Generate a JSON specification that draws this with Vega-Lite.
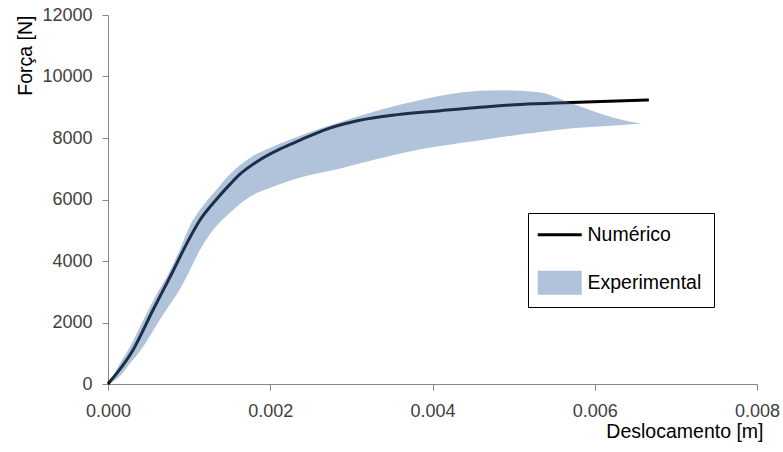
{
  "$schema": "https://vega.github.io/schema/vega-lite/v6.json",
  "autosize": "none",
  "width": 649,
  "height": 369,
  "padding": {"left": 108, "top": 15, "right": 26, "bottom": 68},
  "background": "white",
  "config": {
    "font": "Liberation Sans",
    "view": {"stroke": null},
    "axis": {"grid": false, "labelFlush": false, "domainColor": "#868686", "tickColor": "#868686", "tickSize": 6, "labelFont": "Liberation Sans", "labelFontSize": 18, "labelColor": "#404040", "titleFont": "Liberation Sans", "titleFontSize": 19.5, "titleFontWeight": "normal", "titleColor": "#000000"}
  },
  "datasets": {
    "num": [
      {"x": 0, "y": 0, "series": "Numérico"},
      {"x": 0.000309, "y": 1109, "series": "Numérico"},
      {"x": 0.000556, "y": 2413, "series": "Numérico"},
      {"x": 0.00079, "y": 3610, "series": "Numérico"},
      {"x": 0.000975, "y": 4590, "series": "Numérico"},
      {"x": 0.001136, "y": 5340, "series": "Numérico"},
      {"x": 0.001346, "y": 6033, "series": "Numérico"},
      {"x": 0.001506, "y": 6500, "series": "Numérico"},
      {"x": 0.00163, "y": 6830, "series": "Numérico"},
      {"x": 0.00184, "y": 7239, "series": "Numérico"},
      {"x": 0.002123, "y": 7647, "series": "Numérico"},
      {"x": 0.00237, "y": 7930, "series": "Numérico"},
      {"x": 0.002654, "y": 8250, "series": "Numérico"},
      {"x": 0.003074, "y": 8560, "series": "Numérico"},
      {"x": 0.003568, "y": 8760, "series": "Numérico"},
      {"x": 0.004099, "y": 8890, "series": "Numérico"},
      {"x": 0.004679, "y": 9020, "series": "Numérico"},
      {"x": 0.005086, "y": 9090, "series": "Numérico"},
      {"x": 0.005704, "y": 9153, "series": "Numérico"},
      {"x": 0.006667, "y": 9238, "series": "Numérico"}
    ],
    "exp": [
      {"x": 0, "lo": 0, "hi": 0, "series": "Experimental"},
      {"x": 0.000148, "lo": 261, "hi": 665, "series": "Experimental"},
      {"x": 0.000272, "lo": 672, "hi": 1216, "series": "Experimental"},
      {"x": 0.000432, "lo": 1207, "hi": 2064, "series": "Experimental"},
      {"x": 0.000519, "lo": 1572, "hi": 2521, "series": "Experimental"},
      {"x": 0.000679, "lo": 2250, "hi": 3284, "series": "Experimental"},
      {"x": 0.000728, "lo": 2449, "hi": 3499, "series": "Experimental"},
      {"x": 0.000889, "lo": 3098, "hi": 4402, "series": "Experimental"},
      {"x": 0.001012, "lo": 3717, "hi": 5165, "series": "Experimental"},
      {"x": 0.001136, "lo": 4370, "hi": 5674, "series": "Experimental"},
      {"x": 0.001321, "lo": 5087, "hi": 6271, "series": "Experimental"},
      {"x": 0.001506, "lo": 5576, "hi": 6828, "series": "Experimental"},
      {"x": 0.001753, "lo": 6098, "hi": 7360, "series": "Experimental"},
      {"x": 0.002, "lo": 6382, "hi": 7686, "series": "Experimental"},
      {"x": 0.00237, "lo": 6717, "hi": 8077, "series": "Experimental"},
      {"x": 0.002864, "lo": 7011, "hi": 8518, "series": "Experimental"},
      {"x": 0.003358, "lo": 7344, "hi": 8919, "series": "Experimental"},
      {"x": 0.003852, "lo": 7631, "hi": 9238, "series": "Experimental"},
      {"x": 0.004346, "lo": 7836, "hi": 9479, "series": "Experimental"},
      {"x": 0.00484, "lo": 8028, "hi": 9554, "series": "Experimental"},
      {"x": 0.005333, "lo": 8198, "hi": 9479, "series": "Experimental"},
      {"x": 0.00558, "lo": 8276, "hi": 9261, "series": "Experimental"},
      {"x": 0.00595, "lo": 8354, "hi": 8902, "series": "Experimental"},
      {"x": 0.006259, "lo": 8403, "hi": 8641, "series": "Experimental"},
      {"x": 0.006568, "lo": 8469, "hi": 8469, "series": "Experimental"}
    ]
  },
  "encoding": {
    "x": {
      "field": "x", "type": "quantitative",
      "scale": {"domain": [0, 0.008], "nice": false, "zero": false},
      "axis": {"values": [0, 0.002, 0.004, 0.006, 0.008], "format": ".3f", "labelPadding": 12, "title": "Deslocamento [m]", "titleAnchor": "end", "titleAlign": "right", "titleBaseline": "alphabetic", "titleX": 655, "titleY": 53}
    }
  },
  "layer": [
    {
      "data": {"name": "num"},
      "mark": {"type": "line", "strokeWidth": 3, "interpolate": "monotone"},
      "encoding": {
        "y": {
          "field": "y", "type": "quantitative",
          "scale": {"domain": [0, 12000], "nice": false},
          "axis": {"values": [0, 2000, 4000, 6000, 8000, 10000, 12000], "format": "d", "labelPadding": 10, "title": "Força [N]", "titleAnchor": "end", "titleAlign": "right", "titleBaseline": "alphabetic", "titleAngle": -90, "titleX": -77, "titleY": 0}
        },
        "color": {
          "field": "series", "type": "nominal",
          "scale": {"domain": ["Numérico", "Experimental"], "range": ["#000000", "#4470a8"]},
          "legend": {
            "title": null, "orient": "none", "legendX": 420, "legendY": 198,
            "strokeColor": "#000000", "fillColor": "#ffffff", "padding": 12,
            "symbolSize": 400, "symbolOffset": 10, "labelOffset": 18, "rowPadding": 25,
            "labelFont": "Liberation Sans", "labelFontSize": 19.5, "labelColor": "#000000",
            "encode": {
              "symbols": {
                "update": {
                  "shape": {"signal": "datum.value === 'Numérico' ? 'M-2.2,0H2.2' : 'M-2.2,-1.2H2.2V1.2H-2.2Z'"},
                  "strokeWidth": {"signal": "datum.value === 'Numérico' ? 3 : 0"},
                  "stroke": {"signal": "datum.value === 'Numérico' ? '#000000' : 'transparent'"},
                  "fill": {"signal": "datum.value === 'Numérico' ? 'transparent' : '#4470a8'"},
                  "fillOpacity": {"signal": "datum.value === 'Numérico' ? 0 : 0.42"},
                  "opacity": {"value": 1}
                }
              }
            }
          }
        }
      }
    },
    {
      "data": {"name": "exp"},
      "mark": {"type": "area", "opacity": 0.42, "interpolate": "monotone"},
      "encoding": {
        "y": {"field": "hi", "type": "quantitative"},
        "y2": {"field": "lo"},
        "color": {"field": "series", "type": "nominal"}
      }
    }
  ]
}
